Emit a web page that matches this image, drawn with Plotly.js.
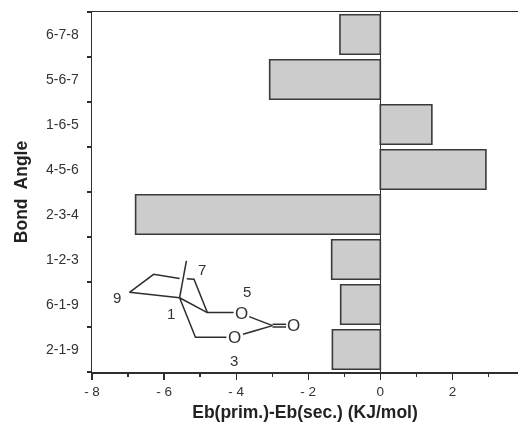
<!DOCTYPE html>
<html>
<head>
<meta charset="utf-8">
<script src="https://cdn.plot.ly/plotly-3.0.1.min.js"></script>
<style>html,body{margin:0;padding:0;background:#fff}#chart{filter:blur(0.35px)}</style>
</head>
<body>
<div id="chart" style="width:518px;height:422px"></div>
<script>
const angles = ['2-1-9','6-1-9','1-2-3','2-3-4','4-5-6','1-6-5','5-6-7','6-7-8'];
const energyDiff = [-1.33,-1.10,-1.35,-6.79,2.93,1.43,-3.07,-1.12];
const slots = [0.5,1.5,2.5,3.5,4.5,5.5,6.5,7.5];
const slotEdges = [0,1,2,3,4,5,6,7,8];
const xMajorTicks = [-8,-6,-4,-2,0,2];
const xTickLabels = ['- 8','- 6','- 4','- 2','0','2'];

// Inset molecule sketch, as polylines in axis units
const bondLines = [
  [[-5.57,-6.96,-6.29,-5.57],[1.65,1.77,2.17,2.08]],
  [[-5.37,-5.17,-4.80,-4.07],[2.07,2.06,1.32,1.32]],
  [[-4.80,-5.57,-5.13,-4.27],[1.32,1.65,0.77,0.77]],
  [[-5.38,-5.57],[2.47,1.65]],
  [[-3.64,-2.99],[1.23,1.03]],
  [[-3.81,-2.99],[0.84,1.03]],
  [[-2.99,-2.61],[1.06,1.06]],
  [[-2.99,-2.61],[1.00,1.00]]
];
const atomLabels = [
  ['O',-3.86,1.30,17],['O',-4.06,0.77,17],['O',-2.40,1.04,17],
  ['7',-4.94,2.27,15],['5',-3.69,1.80,15],['9',-7.31,1.66,15],['1',-5.80,1.29,15],['3',-4.06,0.25,15]
];

const ink = '#2e2e2e';
const traces = [{
  type:'bar', orientation:'h', x:energyDiff, y:slots, width:0.88,
  marker:{color:'#d2d2d2', line:{color:'#3a3a3a',width:1.6},
    pattern:{shape:'.',size:2,solidity:0.5,fgcolor:'#ababab',bgcolor:'#e6e6e6'}},
  hoverinfo:'skip', showlegend:false
}];
bondLines.forEach(b=>traces.push({type:'scatter',mode:'lines',x:b[0],y:b[1],
  line:{color:ink,width:1.5},hoverinfo:'skip',showlegend:false}));

const layout = {
  width:518,height:422,
  margin:{l:92,r:0,t:11.5,b:50},
  paper_bgcolor:'#fff',plot_bgcolor:'#fff',
  font:{family:'"Liberation Sans", Arial, sans-serif',color:'#333',size:14},
  bargap:0.12,showlegend:false,
  xaxis:{
    range:[-8,3.82],tickmode:'array',tickvals:xMajorTicks,ticktext:xTickLabels,
    ticks:'outside',ticklen:6,tickwidth:1.3,tickcolor:ink,
    minor:{dtick:1,tick0:0,ticks:'outside',ticklen:3,tickwidth:1.3,tickcolor:ink,showgrid:false},
    showgrid:false,zeroline:true,zerolinecolor:ink,zerolinewidth:1.5,
    showline:true,linecolor:ink,linewidth:1.5,mirror:true,automargin:true,
    tickfont:{size:13.5,color:'#333'},
    title:{text:'Eb(prim.)-Eb(sec.) (KJ/mol)',standoff:9,font:{size:17.5,color:'#222',weight:'bold'}}
  },
  yaxis:{
    range:[0,8],tickmode:'array',tickvals:slots,ticktext:angles,
    ticks:'',showgrid:false,zeroline:false,automargin:true,
    minor:{tickmode:'array',tickvals:slotEdges,ticks:'outside',ticklen:4,tickwidth:1.3,tickcolor:ink,showgrid:false},
    showline:true,linecolor:ink,linewidth:1.5,
    tickfont:{size:14,color:'#333'},ticklabelstandoff:9,
    title:{text:'Bond  Angle',standoff:14,font:{size:17.5,color:'#222',weight:'bold'}}
  },
  annotations:atomLabels.map(a=>({x:a[1],y:a[2],xref:'x',yref:'y',text:a[0],showarrow:false,
    font:{size:a[3],color:'#333'},bgcolor:a[0]==='O'?'#fff':'rgba(0,0,0,0)',borderpad:0}))
};
Plotly.newPlot('chart',traces,layout,{staticPlot:true,displayModeBar:false});
</script>
</body>
</html>
